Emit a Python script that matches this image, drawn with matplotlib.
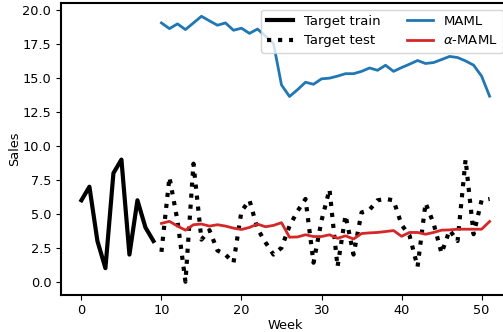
import matplotlib
matplotlib.use("Agg")
import matplotlib.pyplot as plt

# weeks and sales
weeks_train = list(range(0, 10))
weeks_test = list(range(10, 52))

target_train = [6, 7, 3, 1, 8, 9, 2, 6, 4, 3]
target_test = [2.2, 7.7, 4.5, 0.0, 8.7, 3.1, 3.8, 2.3, 2.0, 1.4,
               5.2, 6.0, 3.9, 2.9, 2.0, 2.5, 4.1, 5.2, 6.1, 1.4,
               4.5, 6.8, 1.1, 4.9, 2.0, 5.1, 5.3, 6.0, 6.1, 6.0,
               4.2, 3.4, 1.1, 5.8, 4.3, 2.1, 3.8, 3.0, 9.0, 3.5,
               6.0, 6.1]
maml = [19.07, 18.65, 19.0, 18.58, 19.07, 19.56, 19.22, 18.9, 19.07, 18.53,
        18.68, 18.3, 18.62, 18.1, 17.55, 14.5, 13.65, 14.15, 14.7, 14.55,
        14.95, 15.0, 15.15, 15.33, 15.33, 15.5, 15.75, 15.58, 15.95, 15.5,
        15.78, 16.03, 16.3, 16.08, 16.15, 16.37, 16.6, 16.52, 16.27, 15.96,
        15.15, 13.67]
alpha_maml = [4.3, 4.45, 4.1, 3.8, 4.2, 4.25, 4.1, 4.2, 4.1, 3.95,
              3.85, 4.0, 4.25, 4.05, 4.15, 4.35, 3.28, 3.3, 3.46, 3.33,
              3.33, 3.46, 3.2, 3.38, 3.15, 3.55, 3.6, 3.63, 3.7, 3.77,
              3.35, 3.63, 3.63, 3.5, 3.63, 3.8, 3.82, 3.87, 3.87, 3.87,
              3.87, 4.44]

plt.rcParams['font.size'] = 9.3
plt.rcParams['axes.linewidth'] = 1.5

fig = plt.figure(figsize=(5.03, 3.32), dpi=100)
# right edge of the axes runs past the picture, as in the reference
ax = fig.add_axes([61 / 503, 37 / 332, 449 / 503, 292 / 332])

ax.plot(weeks_train, target_train, color='k', lw=3, label='Target train')
ax.plot(weeks_test, target_test, color='k', lw=3, ls=':', label='Target test')
ax.plot(weeks_test, maml, color='tab:blue', lw=2, label='MAML')
ax.plot(weeks_test, alpha_maml, color='tab:red', lw=2, label=r'$\alpha$-MAML')

ax.set_yticks([0, 2.5, 5, 7.5, 10, 12.5, 15, 17.5, 20])
ax.set_xticks([0, 10, 20, 30, 40, 50])
ax.tick_params(axis='x', pad=3)
ax.set_xlabel('Week', labelpad=1.5)
ax.set_ylabel('Sales', labelpad=1)
ax.legend(loc='upper right', ncol=2, fontsize=9.5)

fig.savefig('out.png', dpi=100)
